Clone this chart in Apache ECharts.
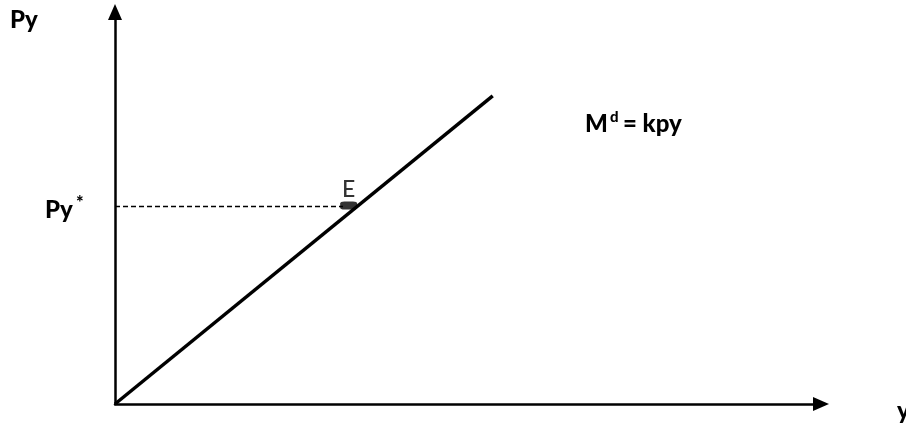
<!DOCTYPE html>
<html>
<head>
<meta charset="utf-8">
<script src="https://cdn.jsdelivr.net/npm/echarts@6/dist/echarts.min.js"></script>
<style>
  html, body { margin: 0; padding: 0; background: #fff; }
  #chart { width: 906px; height: 435px; }
</style>
</head>
<body>
<div id="chart"></div>
<script>
// money demand line M^d = kpy, drawn on a 0..100 value grid
const demandX = [0, 53.5];
const demandY = [0, 78.6];
// equilibrium point E and the dashed guide to the Py axis
const equilibrium = [34.3, 50.4];
const guideX = [0, 32.3];
// text labels
const yAxisTitle = "Py";
const xAxisTitle = "y";
const levelLabel = "Py";
const curveLabel = "M";
const pointLabel = "E";

const chart = echarts.init(document.getElementById("chart"));

const font = "Lato, 'Open Sans', sans-serif";
const bold = { fontFamily: font, fontWeight: 900, fontSize: 24, fill: "#000" };
const sup = { fontFamily: font, fontWeight: 900, fontSize: 15, fill: "#000" };

const option = {
  backgroundColor: "#fff",
  animation: false,
  grid: { left: 115, right: 85, top: 12, bottom: 31 },
  xAxis: {
    type: "value",
    min: 0,
    max: 100,
    axisLine: {
      show: true,
      symbol: ["none", "triangle"],
      symbolSize: [14, 16],
      lineStyle: { color: "#000", width: 2.5 },
    },
    axisTick: { show: false },
    axisLabel: { show: false },
    splitLine: { show: false },
  },
  yAxis: {
    type: "value",
    min: 0,
    max: 100,
    axisLine: {
      show: true,
      symbol: ["none", "triangle"],
      symbolSize: [14, 16],
      lineStyle: { color: "#000", width: 2.5 },
    },
    axisTick: { show: false },
    axisLabel: { show: false },
    splitLine: { show: false },
  },
  series: [
    {
      type: "line",
      data: demandX.map((x, i) => [x, demandY[i]]),
      showSymbol: false,
      lineStyle: { color: "#000", width: 3.5 },
      z: 3,
    },
    {
      type: "line",
      data: guideX.map((x) => [x, equilibrium[1]]),
      showSymbol: false,
      lineStyle: { color: "#000", width: 1.5, type: [5, 3] },
      z: 2,
    },
    {
      type: "scatter",
      data: [equilibrium],
      symbol: "roundRect",
      symbolSize: [17, 8],
      symbolOffset: [-8.5, -1],
      itemStyle: { color: "#000" },
      label: {
        show: true,
        position: "top",
        distance: 0,
        formatter: pointLabel,
        fontFamily: font,
        fontWeight: 500,
        fontSize: 23,
        color: "#000",
      },
      z: 4,
    },
  ],
  graphic: [
    { type: "text", left: 10, top: 8, style: Object.assign({ text: yAxisTitle }, bold) },
    { type: "text", left: 45, top: 198, style: Object.assign({ text: levelLabel }, bold) },
    { type: "text", left: 76, top: 194, style: Object.assign({ text: "*" }, sup, { fontSize: 18 }) },
    { type: "text", left: 585, top: 112, style: Object.assign({ text: curveLabel }, bold) },
    { type: "text", left: 610, top: 110, style: Object.assign({ text: "d" }, sup) },
    { type: "text", left: 623, top: 112, style: Object.assign({ text: "= kpy" }, bold) },
    { type: "text", left: 897, top: 399, style: Object.assign({ text: xAxisTitle }, bold) },
  ],
};

chart.setOption(option);
</script>
</body>
</html>
